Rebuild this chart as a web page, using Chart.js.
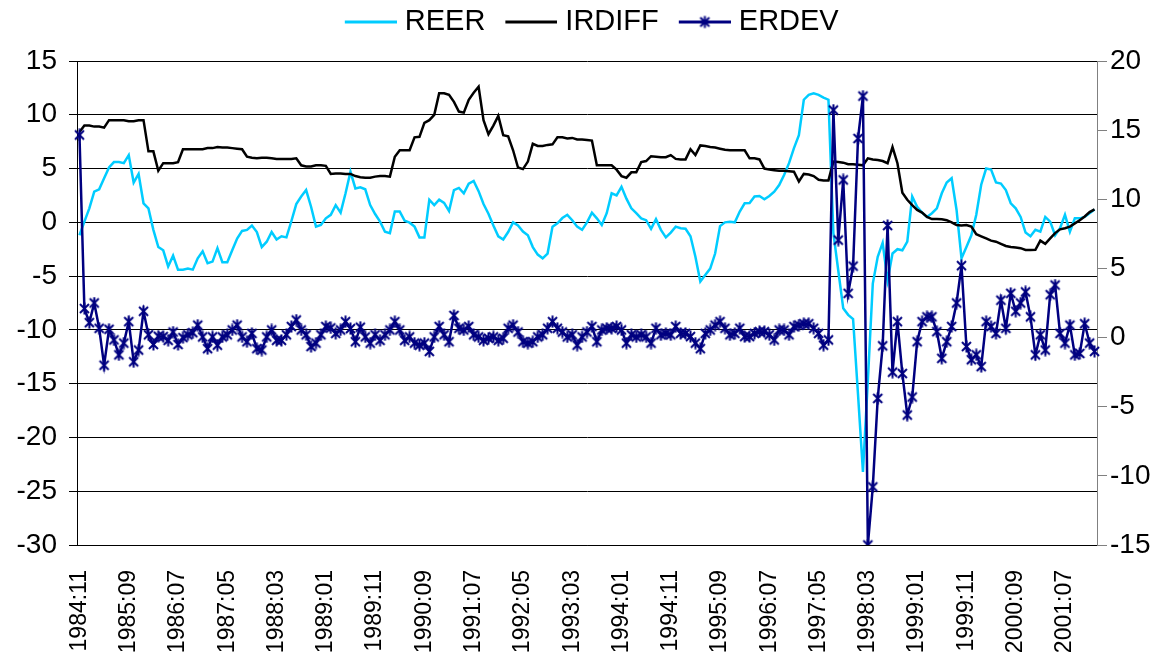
<!DOCTYPE html>
<html>
<head>
<meta charset="utf-8">
<script src="https://cdn.jsdelivr.net/npm/chart.js@4.4.1/dist/chart.umd.min.js"></script>
<style>
  html, body { margin: 0; padding: 0; background: #fff; }
  canvas { display: block; }
</style>
</head>
<body>
<canvas id="grafik" width="1171" height="656"></canvas>
<script>
// monthly series, first month 1984:11
const reer = [
  -1.2, 0.06, 1.3, 2.85, 3.07, 4.1, 5.1, 5.6, 5.6, 5.5, 6.25, 3.7, 4.5, 1.77, 1.3, -0.7, -2.3, -2.6, -4.1, -3.1, -4.4, -4.4, -4.3, -4.4,
  -3.35, -2.7, -3.8, -3.65, -2.4, -3.7, -3.7, -2.6, -1.5, -0.8, -0.7, -0.3, -0.9, -2.3, -1.8, -0.9, -1.6, -1.3, -1.4, 0.1, 1.7, 2.4, 3.0, 1.45, -0.4,
  -0.25, 0.37, 0.7, 1.6, 0.9, 2.7, 4.7, 3.15, 3.25, 3.07, 1.6, 0.77, 0.06, -0.87, -1.0, 1.0, 1.0, 0.15, -0.03, -0.4, -1.4, -1.4, 2.1, 1.6, 2.1,
  1.8, 1.05, 3.0, 3.2, 2.7, 3.6, 3.85, 2.9, 1.7, 0.8, -0.3, -1.3, -1.6, -0.9, 0.0, -0.3, -0.85, -1.2, -2.3, -3.0, -3.35, -2.9, -0.4, -0.1, 0.4,
  0.7, 0.2, -0.4, -0.7, 0.0, 0.9, 0.37, -0.25, 0.85, 2.7, 2.5, 3.3, 2.2, 1.3, 0.85, 0.37, 0.2, -0.6, 0.3, -0.7, -1.4, -0.95, -0.4, -0.55,
  -0.6, -1.3, -3.2, -5.5, -4.9, -4.3, -2.9, -0.35, 0.0, 0.06, 0.0, 1.0, 1.77, 1.8, 2.4, 2.45, 2.15, 2.45, 2.85, 3.47, 4.4, 5.5, 6.9, 8.1, 11.4, 11.85, 12.0,
  11.85, 11.6, 11.4, -1.0, -4.5, -8.0, -8.6, -9.0, -16.0, -23.2, -14.7, -5.7, -3.2, -1.9, -5.4, -2.9, -2.5, -2.6, -1.8, 2.4, 1.45, 0.9, 0.5, 0.85, 1.3, 2.7, 3.7,
  4.1, 1.15, -3.35, -2.3, -1.2, 0.7, 3.5, 5.0, 4.9, 3.7, 3.6, 3.0, 1.77, 1.3, 0.5, -0.95, -1.3, -0.7, -0.87, 0.5, 0.06, -1.2, -0.55, 0.7, -0.87, 0.37, 0.37, 0.5, 0.85, 1.2
];

const irdiff = [
  8.4, 9.0, 9.0, 8.9, 8.9, 8.8, 9.5, 9.5, 9.5, 9.5, 9.4, 9.4, 9.5, 9.5, 6.6, 6.6, 4.8, 5.5, 5.5, 5.5, 5.6, 6.8, 6.8, 6.8,
  6.8, 6.8, 6.9, 6.9, 7.0, 6.95, 6.95, 6.9, 6.85, 6.8, 6.1, 6.0, 5.95, 6.0, 6.0, 5.95, 5.9, 5.9, 5.9, 5.9, 5.95, 5.3, 5.2, 5.2, 5.3,
  5.3, 5.25, 4.5, 4.55, 4.55, 4.5, 4.5, 4.3, 4.2, 4.15, 4.15, 4.25, 4.3, 4.3, 4.25, 6.1, 6.7, 6.7, 6.7, 7.9, 7.95, 9.25, 9.5, 10.0, 12.0,
  12.0, 11.85, 11.2, 10.3, 10.2, 11.4, 12.05, 12.6, 9.5, 8.2, 9.0, 9.9, 8.1, 8.0, 6.7, 5.1, 4.95, 5.65, 7.3, 7.1, 7.1, 7.2, 7.25, 7.9, 7.9,
  7.8, 7.85, 7.7, 7.7, 7.65, 7.6, 5.3, 5.3, 5.3, 5.3, 4.9, 4.3, 4.15, 4.65, 4.65, 5.6, 5.7, 6.15, 6.1, 6.05, 6.05, 6.25, 5.9, 5.85, 5.85, 6.8,
  6.25, 7.15, 7.1, 7.0, 6.95, 6.85, 6.75, 6.7, 6.7, 6.7, 6.7, 5.95, 5.95, 5.85, 5.0, 4.9, 4.85, 4.8, 4.8, 4.75, 4.7, 3.8, 4.5, 4.45, 4.3,
  3.95, 3.9, 3.9, 5.65, 5.6, 5.55, 5.4, 5.4, 5.35, 5.3, 5.95, 5.85, 5.8, 5.7, 5.5, 7.0, 5.5, 2.75, 2.1, 1.6, 1.15, 0.9, 0.5, 0.3, 0.3, 0.28, 0.2,
  0.0, -0.25, -0.3, -0.25, -0.4, -1.1, -1.3, -1.5, -1.7, -1.8, -2.0, -2.2, -2.3, -2.35, -2.4, -2.57, -2.57, -2.55, -1.7, -2.0, -1.5, -1.0, -0.65, -0.55, -0.4, -0.1, 0.2, 0.55, 0.95, 1.2
];

const erdev = [
  14.65, 2.1, 1.08, 2.5, 0.67, -2.0, 0.6, -0.17, -1.25, -0.4, 1.15, -1.75, -0.9, 1.9, 0.2, -0.5, 0.1, 0.07, -0.2, 0.4, -0.5, 0.0, 0.2, 0.35,
  0.9, 0.05, -0.8, 0.05, -0.55, 0.05, 0.2, 0.55, 0.9, 0.05, -0.3, 0.3, -0.8, -0.9, 0.05, 0.55, -0.2, -0.2, 0.2, 0.8, 1.27, 0.55, 0.2, -0.65, -0.4,
  0.2, 0.8, 0.7, 0.3, 0.55, 1.15, 0.65, -0.3, 0.75, 0.05, -0.4, 0.2, -0.2, 0.2, 0.55, 1.15, 0.55, -0.2, 0.05, -0.4, -0.55, -0.4, -1.0, 0.05, 0.8,
  0.2, -0.3, 1.6, 0.67, 0.55, 0.8, 0.2, 0.05, -0.2, -0.05, 0.05, -0.2, -0.05, 0.67, 0.9, 0.4, -0.3, -0.4, -0.3, 0.05, 0.2, 0.67, 1.15, 0.67, 0.4,
  0.05, 0.2, -0.55, 0.05, 0.4, 0.8, -0.3, 0.55, 0.67, 0.67, 0.8, 0.55, -0.4, 0.2, 0.05, 0.2, 0.05, -0.4, 0.67, 0.2, 0.3, 0.2, 0.8, 0.3,
  0.3, 0.07, -0.4, -0.8, 0.3, 0.55, 0.9, 1.15, 0.67, 0.2, 0.3, 0.67, 0.07, 0.07, 0.3, 0.43, 0.43, 0.2, -0.17, 0.55, 0.55, 0.2, 0.8, 0.9, 1.0, 1.0, 0.67,
  0.3, -0.55, -0.17, 16.45, 7.05, 11.4, 3.2, 5.17, 14.4, 17.46, -15, -10.8, -4.4, -0.6, 8.1, -2.5, 1.15, -2.6, -5.6, -4.3, -0.3, 1.15, 1.5, 1.5, 0.43, -1.5, -0.3,
  0.8, 2.5, 5.2, -0.65, -1.6, -1.25, -2.1, 1.15, 0.8, 0.3, 2.7, 0.67, 3.2, 1.9, 2.5, 3.3, 1.5, -1.25, 0.2, -0.9, 3.1, 3.8, 0.3, -0.4, 0.9, -1.25, -1.15, 1.0, -0.4, -1.0
];

const seriesNames = ["REER", "IRDIFF", "ERDEV"];
const seriesColors = ["#00ccff", "#000000", "#000080"];
const leftTicks = { min: -30, max: 15, step: 5 };
const rightTicks = { min: -15, max: 20, step: 5 };

// category labels YYYY:MM
const aylar = [];
for (let k = 0; k < reer.length; k++) {
  const m = 10 + k;
  aylar.push((1984 + Math.floor(m / 12)) + ":" + String(m % 12 + 1).padStart(2, "0"));
}

const FONT = "'Liberation Sans', Arial, sans-serif";

function yildiz(renk) {
  const c = document.createElement("canvas");
  c.width = 13; c.height = 13;
  const g = c.getContext("2d");
  g.strokeStyle = renk;
  g.lineWidth = 2;
  g.beginPath();
  g.moveTo(2, 2); g.lineTo(11, 11);
  g.moveTo(11, 2); g.lineTo(2, 11);
  g.moveTo(6.5, 0.5); g.lineTo(6.5, 12.5);
  g.stroke();
  return c;
}

function legendIkon(renk, isaret) {
  const c = document.createElement("canvas");
  c.width = 71; c.height = 15;
  const g = c.getContext("2d");
  g.strokeStyle = renk;
  g.lineWidth = 3;
  g.beginPath();
  g.moveTo(19, 7.5); g.lineTo(71, 7.5);
  g.stroke();
  if (isaret) g.drawImage(yildiz(renk), 45 - 6.5, 1);
  return c;
}

const ikonlar = [
  legendIkon(seriesColors[0], false),
  legendIkon(seriesColors[1], false),
  legendIkon(seriesColors[2], true)
];

const legendBosluk = {
  id: "legendBosluk",
  afterInit(chart) {
    const fit = chart.legend.fit;
    chart.legend.fit = function () {
      fit.call(this);
      this.height = 61;
    };
  }
};

new Chart(document.getElementById("grafik"), {
  type: "line",
  data: {
    labels: aylar,
    datasets: [
      {
        label: seriesNames[0],
        data: reer,
        borderColor: seriesColors[0],
        backgroundColor: seriesColors[0],
        borderWidth: 2.5,
        pointRadius: 0,
        yAxisID: "y",
        order: 3
      },
      {
        label: seriesNames[1],
        data: irdiff,
        borderColor: seriesColors[1],
        backgroundColor: seriesColors[1],
        borderWidth: 2.5,
        pointRadius: 0,
        yAxisID: "y",
        order: 2
      },
      {
        label: seriesNames[2],
        data: erdev,
        borderColor: seriesColors[2],
        backgroundColor: seriesColors[2],
        borderWidth: 2.5,
        pointStyle: yildiz(seriesColors[2]),
        pointRadius: 5,
        yAxisID: "y2",
        order: 1
      }
    ]
  },
  options: {
    responsive: false,
    animation: false,
    devicePixelRatio: 1,
    layout: { padding: 0 },
    plugins: {
      tooltip: { enabled: false },
      legend: {
        position: "top",
        labels: {
          usePointStyle: true,
          pointStyleWidth: 58,
          padding: 7.5,
          color: "#000",
          font: { family: FONT, size: 29 },
          generateLabels: chart =>
            Chart.defaults.plugins.legend.labels.generateLabels(chart)
              .map(l => Object.assign(l, { pointStyle: ikonlar[l.datasetIndex] })),
          sort: (a, b) => a.datasetIndex - b.datasetIndex
        }
      }
    },
    scales: {
      x: {
        type: "category",
        offset: true,
        grid: { display: false },
        border: { display: true, color: "#000", width: 1 },
        ticks: {
          autoSkip: false,
          maxRotation: 90,
          minRotation: 90,
          padding: 17,
          color: "#000",
          font: { family: FONT, size: 23 },
          callback: function (v, i) {
            return i % 10 === 0 ? this.getLabelForValue(v) : "";
          }
        },
        afterFit: s => { s.height = 111; }
      },
      y: {
        position: "left",
        min: leftTicks.min,
        max: leftTicks.max,
        grid: { color: "#000", lineWidth: 1, drawTicks: true, tickLength: 8 },
        border: { display: true, color: "#000", width: 1 },
        ticks: {
          stepSize: leftTicks.step,
          padding: 12,
          color: "#000",
          font: { family: FONT, size: 28 }
        },
        afterFit: s => { s.width = 77; }
      },
      y2: {
        position: "right",
        min: rightTicks.min,
        max: rightTicks.max,
        grid: { drawOnChartArea: false, color: "#808080", drawTicks: true, tickLength: 10 },
        border: { display: true, color: "#808080", width: 1 },
        ticks: {
          stepSize: rightTicks.step,
          padding: 3,
          color: "#000",
          font: { family: FONT, size: 28 }
        },
        afterFit: s => { s.width = 74; }
      }
    }
  },
  plugins: [legendBosluk]
});
</script>
</body>
</html>
